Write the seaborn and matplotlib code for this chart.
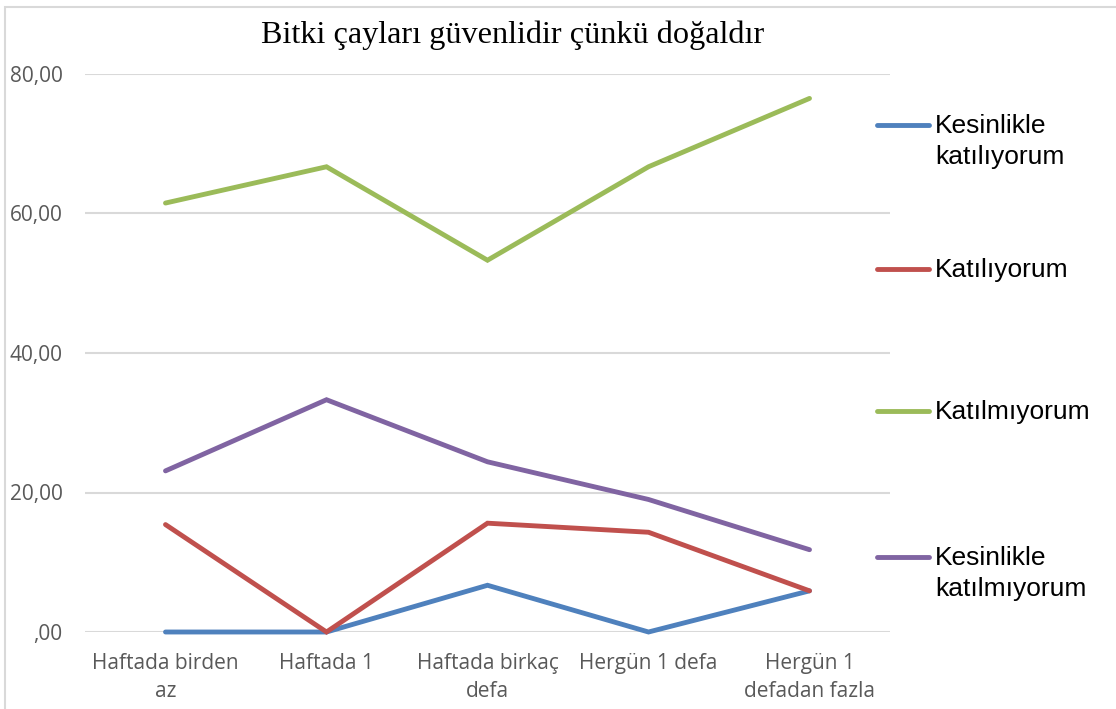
import matplotlib
matplotlib.use("Agg")
import matplotlib.pyplot as plt
import seaborn as sns
import pandas as pd
from matplotlib.lines import Line2D
from matplotlib.patches import Rectangle
from matplotlib.ticker import FuncFormatter

categories = ["Haftada birden\naz", "Haftada 1", "Haftada birkaç\ndefa", "Hergün 1 defa", "Hergün 1\ndefadan fazla"]
series_names = ["Kesinlikle\nkatılıyorum", "Katılıyorum", "Katılmıyorum", "Kesinlikle\nkatılmıyorum"]
kesinlikle_katiliyorum = [0.0, 0.0, 6.7, 0.0, 5.9]
katiliyorum = [15.4, 0.0, 15.6, 14.3, 5.9]
katilmiyorum = [61.5, 66.7, 53.3, 66.7, 76.5]
kesinlikle_katilmiyorum = [23.1, 33.3, 24.4, 19.0, 11.8]
colors = ["#4F81BD", "#C0504D", "#9BBB59", "#8064A2"]
title = "Bitki çayları güvenlidir çünkü doğaldır"
yticks = [0, 20, 40, 60, 80]

values = [kesinlikle_katiliyorum, katiliyorum, katilmiyorum, kesinlikle_katilmiyorum]
rows = []
for name, vals in zip(series_names, values):
    for i, v in enumerate(vals):
        rows.append({"x": i, "value": v, "series": name})
df = pd.DataFrame(rows)

sns.set_theme(style="white")
fig = plt.figure(figsize=(11.16, 7.09), dpi=100)
ax = fig.add_axes([85/1116, 1-632/709, (890-85)/1116, (632-74)/709])

sns.lineplot(data=df, x="x", y="value", hue="series", hue_order=series_names,
             palette=colors, linewidth=3.5, ax=ax, legend=False,
             solid_capstyle="round", solid_joinstyle="miter")
for ln in ax.get_lines():
    ln.set_clip_on(False)

ax.set_xlim(-0.5, 4.5)
ax.set_ylim(0, 80)
ax.set_yticks(yticks)
ax.yaxis.set_major_formatter(FuncFormatter(lambda v, p: ",00" if v == 0 else f"{int(v)},00"))
ax.set_xticks(range(len(categories)))
ax.set_xticklabels(categories, linespacing=1.45)
ax.set_xlabel("")
ax.set_ylabel("")
for s in ax.spines.values():
    s.set_visible(False)
ax.grid(axis="y", color="#D9D9D9", linewidth=1.5)
ax.set_axisbelow(True)
ax.tick_params(axis="both", length=0, labelsize=15, labelcolor="#595959")
ax.tick_params(axis="y", pad=16)
ax.tick_params(axis="x", pad=15)
for lab in ax.get_xticklabels() + ax.get_yticklabels():
    lab.set_family(["Open Sans", "DejaVu Sans"])

fig.text(513/1116, 1-35/709, title, ha="center", va="center",
         family=["Liberation Serif", "DejaVu Serif"], fontsize=23.2, color="black")

# legend
leg_y = [125, 269, 411, 557]
for name, col, y in zip(series_names, colors, leg_y):
    fy = 1 - y/709
    fig.add_artist(Line2D([877/1116, 929/1116], [fy, fy], color=col, linewidth=3.5,
                          solid_capstyle="round", transform=fig.transFigure))
    fig.text(935/1116, 1 - (y - 11)/709, name, ha="left", va="top",
             family=["Liberation Sans", "DejaVu Sans"], fontsize=19, color="black",
             linespacing=1.35)

fig.add_artist(Rectangle((5/1116, -0.1), 1.2, (1 - 7/709) + 0.1, transform=fig.transFigure,
                         fill=False, edgecolor="#D9D9D9", linewidth=1.5))

fig.savefig("out.png", dpi=100)
